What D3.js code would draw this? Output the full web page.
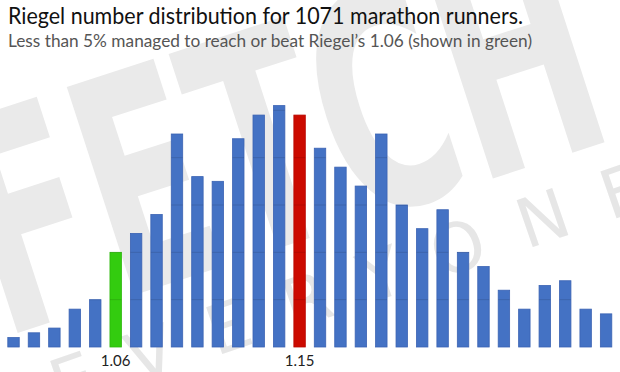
<!DOCTYPE html>
<html>
<head>
<meta charset="utf-8">
<script src="https://cdn.jsdelivr.net/npm/d3@7"></script>
<style>
  body { margin: 0; background: #fff; }
  svg { display: block; }
</style>
</head>
<body>
<div id="chart"></div>
<script>
// riegel buckets 1.01 .. 1.30
var categories = ['1.01', '1.02', '1.03', '1.04', '1.05', '1.06', '1.07', '1.08', '1.09', '1.10',
    '1.11', '1.12', '1.13', '1.14', '1.15', '1.16', '1.17', '1.18', '1.19', '1.20',
    '1.21', '1.22', '1.23', '1.24', '1.25', '1.26', '1.27', '1.28', '1.29', '1.30'];
var runners = [2, 3, 4, 8, 10, 20, 24, 28, 45, 36,
    35, 44, 49, 51, 49, 42, 38, 34, 45, 30,
    25, 29, 20, 17, 12, 8, 13, 14, 8, 7];
var tickLabels = ['1.06', '1.15'];
var gridValues = [10, 20, 30, 40, 50];
var greenBucket = '1.06';
var redBucket = '1.15';

var width = 620, height = 372;

var svg = d3.select('#chart')
    .append('svg')
    .attr('width', width)
    .attr('height', height);

// background watermark
var wm = svg.append('g').attr('class', 'watermark');
wm.append('text')
    .attr('transform', 'translate(2,338) rotate(-18)')
    .attr('font-family', 'DejaVu Sans')
    .attr('font-weight', 'bold')
    .attr('font-size', 300)
    .attr('textLength', 650)
    .attr('lengthAdjust', 'spacingAndGlyphs')
    .attr('fill', '#eaeaea')
    .text('FETCH');
wm.append('text')
    .attr('transform', 'translate(60,410) rotate(-19)')
    .attr('font-family', 'DejaVu Sans')
    .attr('font-size', 68)
    .attr('textLength', 625)
    .attr('lengthAdjust', 'spacing')
    .attr('fill', '#e6e6e6')
    .text('EVERYONE');

var x = d3.scaleBand()
    .domain(categories)
    .range([3.3, 616.3])
    .paddingInner(0.44)
    .paddingOuter(0.22);

var y = d3.scaleLinear()
    .domain([0, 60])
    .range([347, 63]);

function barColor(d) {
    if (d === greenBucket) return '#33cc0f';
    if (d === redBucket) return '#cc0a00';
    return '#4472c4';
}
function barStroke(d) {
    if (d === greenBucket) return '#2bb80a';
    if (d === redBucket) return '#b80800';
    return '#3b63b3';
}

var bars = svg.append('g').attr('class', 'bars');
bars.selectAll('rect')
    .data(categories)
    .enter()
    .append('rect')
    .attr('x', function (d) { return x(d); })
    .attr('y', function (d, i) { return y(runners[i]); })
    .attr('width', x.bandwidth())
    .attr('height', function (d, i) { return y(0) - y(runners[i]); })
    .attr('fill', barColor)
    .attr('stroke', barStroke)
    .attr('stroke-width', 0.8);

// gridlines only show through the bars
var clip = svg.append('clipPath').attr('id', 'barclip');
clip.selectAll('rect')
    .data(categories)
    .enter()
    .append('rect')
    .attr('x', function (d) { return x(d); })
    .attr('y', function (d, i) { return y(runners[i]); })
    .attr('width', x.bandwidth())
    .attr('height', function (d, i) { return y(0) - y(runners[i]); });

svg.append('g')
    .attr('clip-path', 'url(#barclip)')
    .selectAll('line')
    .data(gridValues)
    .enter()
    .append('line')
    .attr('x1', 0)
    .attr('x2', width)
    .attr('y1', function (d) { return y(d); })
    .attr('y2', function (d) { return y(d); })
    .attr('stroke', 'rgba(0,0,0,0.12)')
    .attr('stroke-width', 1);

// x axis, only two labels
var xAxis = svg.append('g')
    .attr('transform', 'translate(0,347)')
    .call(d3.axisBottom(x).tickValues(tickLabels).tickSize(0).tickPadding(8));
xAxis.select('.domain').remove();
xAxis.selectAll('text')
    .attr('font-family', 'Lato, sans-serif')
    .attr('font-size', 15)
    .attr('fill', '#222');

// titles
svg.append('text')
    .attr('x', 8)
    .attr('y', 24)
    .attr('font-family', 'Lato, sans-serif')
    .attr('font-size', 22.5)
    .attr('textLength', 515)
    .attr('lengthAdjust', 'spacingAndGlyphs')
    .attr('fill', '#111')
    .text('Riegel number distribution for 1071 marathon runners.');

svg.append('text')
    .attr('x', 8)
    .attr('y', 47)
    .attr('font-family', 'Lato, sans-serif')
    .attr('font-size', 17)
    .attr('textLength', 524)
    .attr('lengthAdjust', 'spacingAndGlyphs')
    .attr('fill', '#555')
    .text('Less than 5% managed to reach or beat Riegel\u2019s 1.06 (shown in green)');
</script>
</body>
</html>
